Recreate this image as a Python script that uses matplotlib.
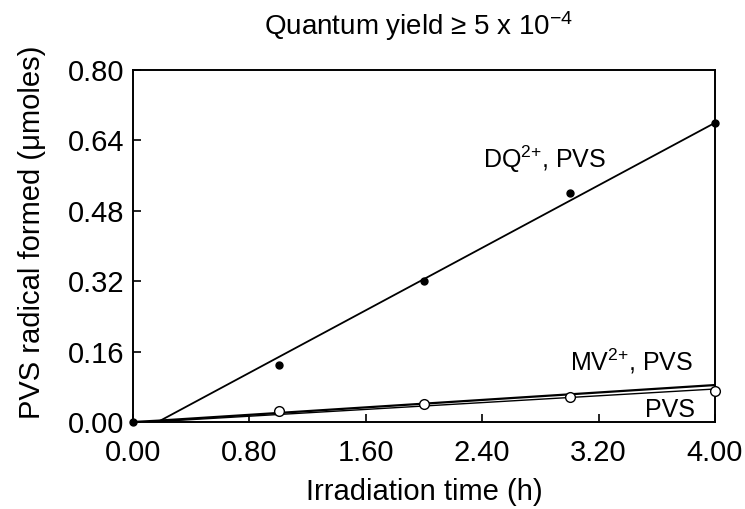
import numpy as np
import matplotlib
matplotlib.use("Agg")
import matplotlib.pyplot as plt

# irradiation time (h) and PVS radical formed (umoles)
dq_t = [0.0, 1.0, 2.0, 3.0, 4.0]
dq_y = [0.0, 0.13, 0.32, 0.52, 0.68]
dq_fit_t = [0.0, 0.17, 4.0]
dq_fit_y = [0.0, 0.0, 0.68]

mv_t = [1.0, 2.0, 3.0, 4.0]
mv_y = [0.025, 0.041, 0.056, 0.070]
mv_fit_t = [0.0, 0.17, 4.0]
mv_fit_y = [0.0, 0.003, 0.084]
pvs_fit_t = [0.17, 4.0]
pvs_fit_y = [0.001, 0.075]

xticks = [0.0, 0.8, 1.6, 2.4, 3.2, 4.0]
yticks = [0.0, 0.16, 0.32, 0.48, 0.64, 0.80]

plt.rcParams["font.family"] = ["Liberation Sans", "DejaVu Sans"]
plt.rcParams["mathtext.fontset"] = "custom"
plt.rcParams["mathtext.rm"] = "Liberation Sans"
plt.rcParams["mathtext.it"] = "Liberation Sans"

W, H = 745, 509
L, R, T, B = 133, 715, 70, 422
fig = plt.figure(figsize=(W / 100, H / 100), dpi=100)
ax = fig.add_axes([L / W, 1 - B / H, (R - L) / W, (B - T) / H])

ax.plot(dq_fit_t, dq_fit_y, color="black", lw=1.3)
ax.plot(mv_fit_t, mv_fit_y, color="black", lw=1.6)
ax.plot(pvs_fit_t, pvs_fit_y, color="black", lw=1.0)
ax.plot(dq_t, dq_y, "o", color="black", ms=5, clip_on=False, zorder=5)
ax.plot(mv_t, mv_y, "o", mfc="white", mec="black", mew=1.0, ms=7,
        clip_on=False, zorder=5)

sup = r"$\mathregular{^{2{+}}}$"
ax.text(2.405, 0.577, "DQ" + sup + ", PVS", fontsize=18, va="baseline", ha="left")
ax.text(3.00, 0.118, "MV" + sup + ", PVS", fontsize=18, va="baseline", ha="left")
ax.text(3.86, 0.011, "PVS", fontsize=18, va="baseline", ha="right")

ax.set_xlim(0, 4.0)
ax.set_ylim(0, 0.80)
ax.set_xticks(xticks)
ax.set_yticks(yticks)
ax.set_xticklabels([f"{v:.2f}" for v in xticks])
ax.set_yticklabels([f"{v:.2f}" for v in yticks])
ax.tick_params(direction="in", length=6, width=1.2, labelsize=21)
ax.tick_params(axis="x", pad=12)
ax.tick_params(axis="y", pad=6)
for s in ax.spines.values():
    s.set_linewidth(1.4)

ax.set_xlabel("Irradiation time (h)", fontsize=21, va="center")
ax.xaxis.set_label_coords(0.5, -(492 - B) / (B - T))
ax.set_ylabel("PVS radical formed (\u03bcmoles)", fontsize=21, va="center")
ax.yaxis.set_label_coords(-(L - 32) / (R - L), (B - 232) / (B - T))
fig.text(419 / W, 1 - 35 / H, "Quantum yield \u2265 5 x 10" + r"$\mathregular{^{-4}}$",
         fontsize=20, ha="center", va="baseline")

fig.savefig("out.png", dpi=100)
